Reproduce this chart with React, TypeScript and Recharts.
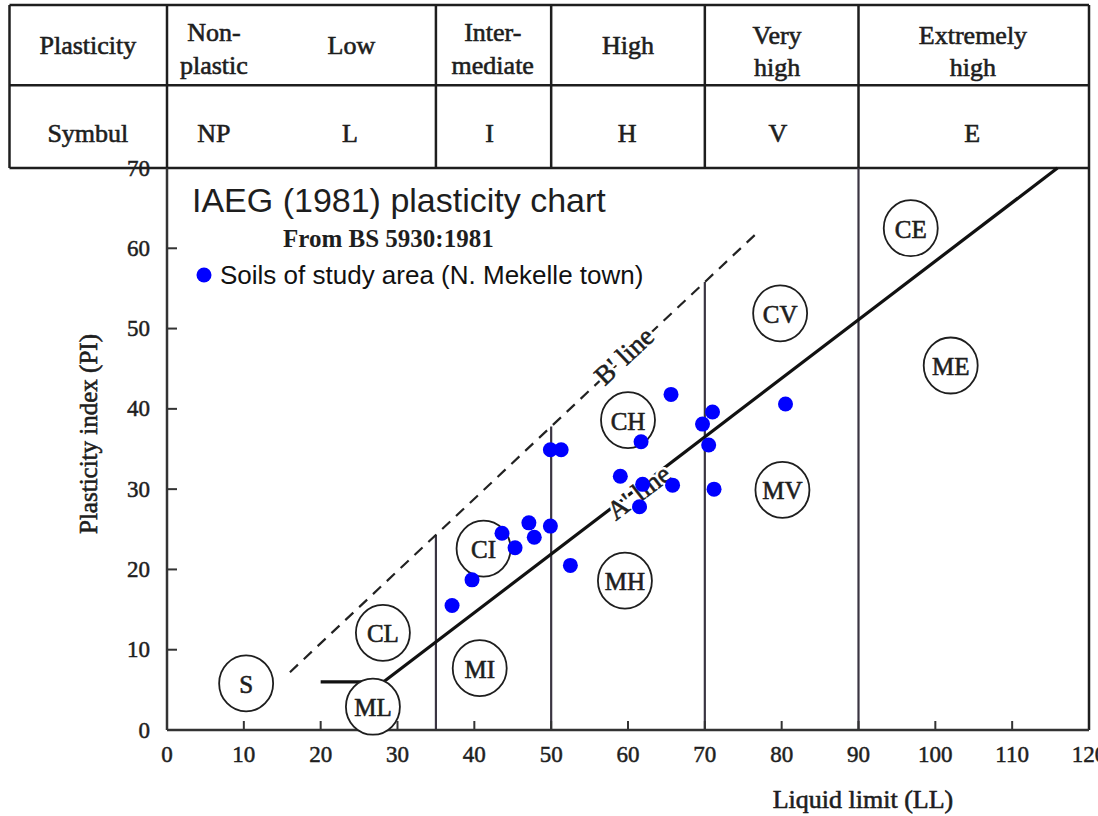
import React from 'react'
import {
  ScatterChart,
  Scatter,
  XAxis,
  YAxis,
  ReferenceLine,
  ReferenceDot,
  Legend,
  Label,
} from 'recharts'

// soils of the study area (N. Mekelle town)
const liquidLimit = [
  37.1, 39.7, 43.6, 45.3, 47.1, 47.8, 49.9, 49.9, 51.3, 52.5, 59.0, 61.7, 61.9,
  61.5, 65.6, 65.8, 69.7, 71.0, 70.5, 71.2, 80.5,
]
const plasticityIndex = [
  15.5, 18.7, 24.5, 22.7, 25.8, 24.0, 25.4, 34.9, 34.9, 20.5, 31.6, 35.9, 30.6,
  27.8, 41.8, 30.5, 38.1, 39.6, 35.5, 30.0, 40.6,
]

const xTicks = [0, 10, 20, 30, 40, 50, 60, 70, 80, 90, 100, 110, 120]
const yTicks = [0, 10, 20, 30, 40, 50, 60, 70]

// A-line (with the low-plasticity step) and B-line
const aLineLL = [20, 28.2, 115.9]
const aLinePI = [6, 6, 70]
const bLineLL = [16, 77]
const bLinePI = [7.2, 62.1]

// zone boundaries inside the plot and where they stop
const zoneLL = [35, 50, 70, 90]
const zoneTopPI = [24.3, 37.8, 55.8, 70]

// circled soil groups
const groupCodes = ['S', 'CL', 'ML', 'MI', 'CI', 'MH', 'CH', 'MV', 'CV', 'ME', 'CE']
const groupLL = [10.3, 28.1, 26.8, 40.7, 41.2, 59.6, 60.0, 80.1, 79.8, 102.0, 96.8]
const groupPI = [5.8, 12.1, 2.9, 7.7, 22.6, 18.6, 38.6, 29.9, 51.9, 45.4, 62.5]

// header table above the plot
const tableCols = [-20.5, 0, 35, 50, 70, 90, 120]
const tableRows = [90.3, 80.3, 70]
const classWords = ['Non-', 'plastic', 'Low', 'Inter-', 'mediate', 'High', 'Very', 'high', 'Extremely', 'high']
const classLL = [6.1, 6.1, 24, 42.4, 42.4, 60, 79.4, 79.4, 104.9, 104.9]
const classPI = [86.9, 82.8, 85.3, 86.9, 82.8, 85.3, 86.5, 82.5, 86.5, 82.5]
const symbolNames = ['NP', 'L', 'I', 'H', 'V', 'E']
const symbolLL = [6.1, 23.8, 42, 59.9, 79.5, 104.8]

const points = liquidLimit.map((ll, i) => ({ ll, pi: plasticityIndex[i] }))

const SERIF = '"Liberation Serif", "Times New Roman", serif'
const SANS = '"Liberation Sans", Arial, sans-serif'
const INK = '#1e1e1e'

const textShape =
  (value: string, opts: { size?: number; anchor?: string; family?: string; weight?: any; rotate?: number; halo?: boolean; bold?: number } = {}) =>
  (p: any) => {
    const { size = 26, anchor = 'middle', family = SERIF, weight = 'normal', rotate = 0, halo = false, bold = 0.6 } = opts
    const transform = rotate ? `rotate(${rotate} ${p.cx} ${p.cy})` : undefined
    const common = {
      x: p.cx,
      y: p.cy,
      textAnchor: anchor as any,
      dominantBaseline: anchor === 'middle' ? 'central' : 'auto',
      fontFamily: family,
      fontSize: size,
      fontWeight: weight,
      transform,
    }
    return (
      <g>
        {halo && (
          <text {...common} fill="#fff" stroke="#fff" strokeWidth={6}>
            {value}
          </text>
        )}
        <text {...common} fill={INK} stroke={bold ? INK : undefined} strokeWidth={bold || undefined}>
          {value}
        </text>
      </g>
    )
  }

const circledShape = (code: string) => (p: any) => (
  <g>
    <ellipse cx={p.cx} cy={p.cy} rx={27} ry={28} fill="#fff" stroke={INK} strokeWidth={1.8} />
    <text
      x={p.cx}
      y={p.cy + 1}
      textAnchor="middle"
      dominantBaseline="central"
      fontFamily={SERIF}
      fontSize={25}
      fill={INK}
      stroke={INK}
      strokeWidth={0.6}
    >
      {code}
    </text>
  </g>
)

const dotShape = (p: any) => <circle cx={p.cx} cy={p.cy} r={7.5} fill="#0000ff" />

const renderLegend = () => (
  <svg width={520} height={36}>
    <circle cx={8} cy={18} r={7.5} fill="#0000ff" />
    <text x={24} y={27} fontFamily={SANS} fontSize={26} fill="#111">
      Soils of study area (N. Mekelle town)
    </text>
  </svg>
)

const renderYLabel = (props: any) => {
  const vb = props.viewBox ?? { x: 67, y: 168, width: 100, height: 562 }
  const cx = vb.x + 21
  const cy = vb.y + vb.height / 2 - 15
  return (
    <text
      x={cx}
      y={cy}
      transform={`rotate(-90 ${cx} ${cy})`}
      textAnchor="middle"
      dominantBaseline="central"
      fontFamily={SERIF}
      fontSize={25}
      fill={INK}
      stroke={INK}
      strokeWidth={0.6}
    >
      Plasticity index (PI)
    </text>
  )
}

const renderXLabel = (props: any) => {
  const vb = props.viewBox ?? { x: 167, y: 730, width: 922, height: 50 }
  return (
    <text
      x={vb.x + 696}
      y={vb.y + 78}
      textAnchor="middle"
      fontFamily={SERIF}
      fontSize={26}
      fill={INK}
      stroke={INK}
      strokeWidth={0.6}
    >
      Liquid limit  (LL)
    </text>
  )
}

const X_GAP = 15
const Y_GAP = 17

// tick label plus a short inward tick mark
const XTick = (p: any) => {
  const v = p.payload?.value
  const axisY = p.y - X_GAP
  return (
    <g>
      {v !== 0 && v !== 120 && (
        <path d={`M${p.x},${axisY}L${p.x},${axisY - 9}`} stroke="#333" strokeWidth={2} fill="none" />
      )}
      <text
        x={p.x}
        y={p.y}
        dy="0.75em"
        textAnchor="middle"
        fontFamily={SERIF}
        fontSize={23}
        fill={INK}
        stroke={INK}
        strokeWidth={0.5}
      >
        {v}
      </text>
    </g>
  )
}

const YTick = (p: any) => {
  const v = p.payload?.value
  const axisX = p.x + Y_GAP
  return (
    <g>
      {v !== 0 && v !== 70 && (
        <path d={`M${axisX},${p.y}L${axisX + 10},${p.y}`} stroke="#333" strokeWidth={2} fill="none" />
      )}
      <text
        x={p.x}
        y={p.y}
        textAnchor="end"
        dominantBaseline="central"
        fontFamily={SERIF}
        fontSize={23}
        fill={INK}
        stroke={INK}
        strokeWidth={0.5}
      >
        {v}
      </text>
    </g>
  )
}

export default function App() {
  const lineColor = '#3a3542'
  return (
    <div style={{ position: 'absolute', left: 0, top: 0, background: '#fff' }}>
      <ScatterChart width={1098} height={816} margin={{ top: 168, right: 9, left: 67, bottom: 36 }}>
        <XAxis
          type="number"
          dataKey="ll"
          domain={[0, 120]}
          ticks={xTicks}
          interval={0}
          height={50}
          stroke="#333"
          strokeWidth={2.5}
          tickLine={false}
          tickSize={0}
          tickMargin={X_GAP}
          tick={XTick}
        >
          <Label content={renderXLabel} />
        </XAxis>
        <YAxis
          type="number"
          dataKey="pi"
          domain={[0, 70]}
          ticks={yTicks}
          interval={0}
          width={100}
          stroke="#333"
          strokeWidth={2.5}
          tickLine={false}
          tickSize={0}
          tickMargin={Y_GAP}
          tick={YTick}
        >
          <Label content={renderYLabel} />
        </YAxis>

        {/* header table */}
        {tableRows.map((pi) => (
          <ReferenceLine
            key={`row-${pi}`}
            segment={[
              { x: tableCols[0], y: pi },
              { x: tableCols[tableCols.length - 1], y: pi },
            ]}
            stroke={INK}
            strokeWidth={2.5}
            ifOverflow="visible"
          />
        ))}
        {tableCols.map((ll) => (
          <ReferenceLine
            key={`col-${ll}`}
            segment={[
              { x: ll, y: ll === 120 ? 0 : tableRows[2] },
              { x: ll, y: tableRows[0] },
            ]}
            stroke={INK}
            strokeWidth={2.5}
            ifOverflow="visible"
          />
        ))}
        <ReferenceDot x={-10.3} y={85.3} ifOverflow="visible" shape={textShape('Plasticity')} />
        <ReferenceDot x={-10.3} y={74.3} ifOverflow="visible" shape={textShape('Symbul')} />
        {classWords.map((w, i) => (
          <ReferenceDot key={`cw-${i}`} x={classLL[i]} y={classPI[i]} ifOverflow="visible" shape={textShape(w)} />
        ))}
        {symbolNames.map((s, i) => (
          <ReferenceDot key={`sym-${s}`} x={symbolLL[i]} y={74.3} ifOverflow="visible" shape={textShape(s)} />
        ))}

        {/* zone boundaries */}
        {zoneLL.map((ll, i) => (
          <ReferenceLine
            key={`zone-${ll}`}
            segment={[
              { x: ll, y: 0 },
              { x: ll, y: zoneTopPI[i] },
            ]}
            stroke={lineColor}
            strokeWidth={2.2}
            ifOverflow="visible"
          />
        ))}

        {/* B-line */}
        <ReferenceLine
          segment={[
            { x: bLineLL[0], y: bLinePI[0] },
            { x: bLineLL[1], y: bLinePI[1] },
          ]}
          stroke="#222"
          strokeWidth={2.2}
          strokeDasharray="11 8"
          ifOverflow="visible"
        />
        {/* A-line */}
        {aLineLL.slice(1).map((ll, i) => (
          <ReferenceLine
            key={`a-${i}`}
            segment={[
              { x: aLineLL[i], y: aLinePI[i] },
              { x: ll, y: aLinePI[i + 1] },
            ]}
            stroke="#111"
            strokeWidth={3.2}
            ifOverflow="visible"
          />
        ))}
        <ReferenceDot x={59.5} y={46.6} ifOverflow="visible" shape={textShape("B' line", { size: 27, rotate: -43.2, halo: true })} />
        <ReferenceDot x={61.4} y={29.6} ifOverflow="visible" shape={textShape("A' line", { size: 27, rotate: -37.3, halo: true })} />

        {/* circled groups */}
        {groupCodes.map((c, i) => (
          <ReferenceDot key={`g-${c}`} x={groupLL[i]} y={groupPI[i]} ifOverflow="visible" shape={circledShape(c)} />
        ))}

        {/* titles */}
        <ReferenceDot
          x={3.25}
          y={64.5}
          ifOverflow="visible"
          shape={textShape('IAEG (1981) plasticity chart', { size: 34, anchor: 'start', family: SANS, bold: 0 })}
        />
        <ReferenceDot
          x={15.1}
          y={60.15}
          ifOverflow="visible"
          shape={textShape('From BS 5930:1981', { size: 25, anchor: 'start', weight: 'bold', bold: 0 })}
        />

        <Scatter
          name="Soils of study area (N. Mekelle town)"
          data={points}
          shape={dotShape}
          isAnimationActive={false}
        />
        <Legend
          layout="horizontal"
          verticalAlign="middle"
          align="center"
          content={renderLegend}
          wrapperStyle={{ position: 'absolute', left: 196, top: 257, width: 520, height: 36 }}
        />
      </ScatterChart>
    </div>
  )
}
